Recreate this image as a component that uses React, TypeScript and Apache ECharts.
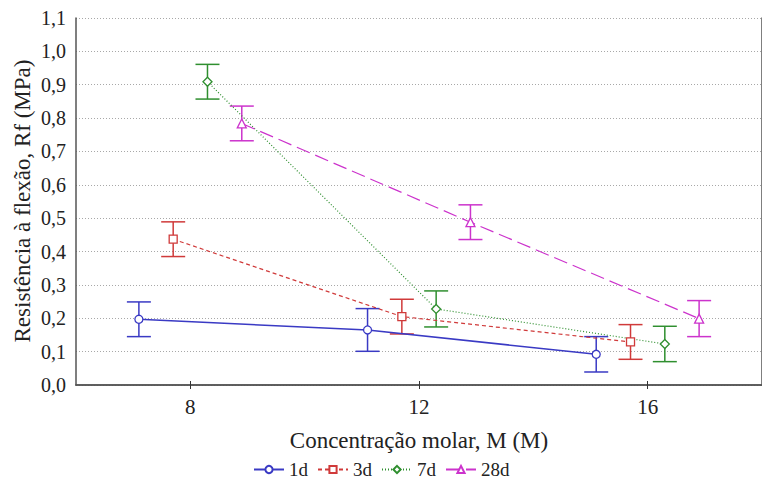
import React, { useEffect, useRef } from "react";
import * as echarts from "echarts";

const concentrations = [8, 12, 16];
const seriesNames = ["1d", "3d", "7d", "28d"];
const dodge = [-0.9, -0.3, 0.3, 0.9];
const means1d = [0.197, 0.165, 0.092];
const means3d = [0.437, 0.205, 0.129];
const means7d = [0.909, 0.228, 0.123];
const means28d = [0.784, 0.488, 0.199];
const err1d = [0.052, 0.064, 0.053];
const err3d = [0.052, 0.052, 0.052];
const err7d = [0.052, 0.054, 0.053];
const err28d = [0.052, 0.052, 0.054];
const yTicks = ["0,0", "0,1", "0,2", "0,3", "0,4", "0,5", "0,6", "0,7", "0,8", "0,9", "1,0", "1,1"];

const means = [means1d, means3d, means7d, means28d];
const errs = [err1d, err3d, err7d, err28d];
const colors = ["#3a3ac4", "#d03a3a", "#2f8f2f", "#cc33cc"];
const symbols = ["circle", "rect", "diamond", "triangle"];
const symbolSizes = [8, 8, 9, 9];
const lineTypes: any[] = ["solid", [4, 3], [1, 2], [14, 6]];
const lineWidths = [1.5, 1.2, 1.2, 1.2];

const FONT = "Times New Roman, Liberation Serif, serif";

export default function App() {
  const ref = useRef<HTMLDivElement>(null);
  useEffect(() => {
    if (!ref.current) return;
    const chart = echarts.init(ref.current, null, { renderer: "svg" });
    const lineSeries: any[] = [];
    const errSeries: any[] = [];
    seriesNames.forEach((name, si) => {
      const pts = concentrations.map((c, i) => [c + dodge[si], means[si][i], errs[si][i]]);
      lineSeries.push({
        type: "line",
        name: name,
        data: pts.map((p) => [p[0], p[1]]),
        z: 4,
        symbol: symbols[si],
        symbolSize: symbolSizes[si],
        showAllSymbol: true,
        lineStyle: { color: colors[si], width: lineWidths[si], type: lineTypes[si] },
        itemStyle: { color: "#ffffff", borderColor: colors[si], borderWidth: 1.3 },
      });
      errSeries.push({
        type: "custom",
        name: name + " err",
        data: pts,
        z: 3,
        renderItem: (params: any, api: any) => {
          const x = api.value(0);
          const y = api.value(1);
          const e = api.value(2);
          const top = api.coord([x, y + e]);
          const bot = api.coord([x, y - e]);
          const hw = 12;
          const style = { stroke: colors[si], lineWidth: 1.5 };
          return {
            type: "group",
            children: [
              { type: "line", shape: { x1: top[0], y1: top[1], x2: bot[0], y2: bot[1] }, style },
              { type: "line", shape: { x1: top[0] - hw, y1: top[1], x2: top[0] + hw, y2: top[1] }, style },
              { type: "line", shape: { x1: bot[0] - hw, y1: bot[1], x2: bot[0] + hw, y2: bot[1] }, style },
            ],
          };
        },
        encode: { x: 0, y: 1 },
        silent: true,
      });
    });

    chart.setOption({
      animation: false,
      backgroundColor: "#ffffff",
      textStyle: { fontFamily: FONT },
      grid: { left: 76, right: -7, top: 18, bottom: 96, show: false },
      legend: {
        data: seriesNames,
        top: 455,
        left: 248,
        itemWidth: 30,
        itemHeight: 9,
        itemGap: 9,
        textStyle: { fontFamily: FONT, fontSize: 19, color: "#222" },
      },
      xAxis: [
        {
          type: "value",
          min: 6,
          max: 18,
          interval: 2,
          name: "Concentração molar, M (M)",
          nameLocation: "middle",
          nameGap: 44,
          nameTextStyle: { fontFamily: FONT, fontSize: 23, color: "#222" },
          axisLine: { lineStyle: { color: "#555", width: 1.5 } },
          axisTick: { inside: true, length: 4, customValues: concentrations, lineStyle: { color: "#333" } },
          axisLabel: { customValues: concentrations, fontFamily: FONT, fontSize: 21, color: "#222", margin: 11 },
          splitLine: { show: false },
        },
        {
          type: "value",
          position: "top",
          min: 6,
          max: 18,
          interval: 2,
          axisLine: { show: true, lineStyle: { color: "#555", width: 1.5 } },
          axisTick: { inside: true, length: 4, customValues: concentrations, lineStyle: { color: "#333" } },
          axisLabel: { show: false },
          splitLine: { show: false },
        },
      ],
      yAxis: [
        {
          type: "value",
          min: 0,
          max: 1.1,
          interval: 0.1,
          axisLine: { show: true, lineStyle: { color: "#555", width: 1.5 } },
          axisTick: { show: false },
          axisLabel: {
            fontFamily: FONT,
            fontSize: 20,
            color: "#222",
            margin: 10,
            formatter: (v: number) => yTicks[Math.round(v * 10)] ?? "",
          },
          splitLine: { show: true, lineStyle: { color: "#a8a8a8", type: [1, 2], width: 1 } },
        },
        {
          type: "value",
          position: "right",
          min: 0,
          max: 1.1,
          interval: 0.1,
          axisLine: { show: true, lineStyle: { color: "#555", width: 1.5 } },
          axisTick: { show: false },
          axisLabel: { show: false },
          splitLine: { show: false },
        },
      ],
      graphic: [
        {
          type: "text",
          x: 22,
          y: 201,
          rotation: Math.PI / 2,
          style: {
            text: "Resistência à flexão, Rf (MPa)",
            fontFamily: FONT,
            fontSize: 23,
            fill: "#222",
            align: "center",
            verticalAlign: "middle",
          },
        },
      ],
      series: [...lineSeries, ...errSeries],
    });
    return () => chart.dispose();
  }, []);
  return (
    <div
      ref={ref}
      style={{ position: "absolute", left: 0, top: 0, width: 762, height: 481 }}
    />
  );
}
